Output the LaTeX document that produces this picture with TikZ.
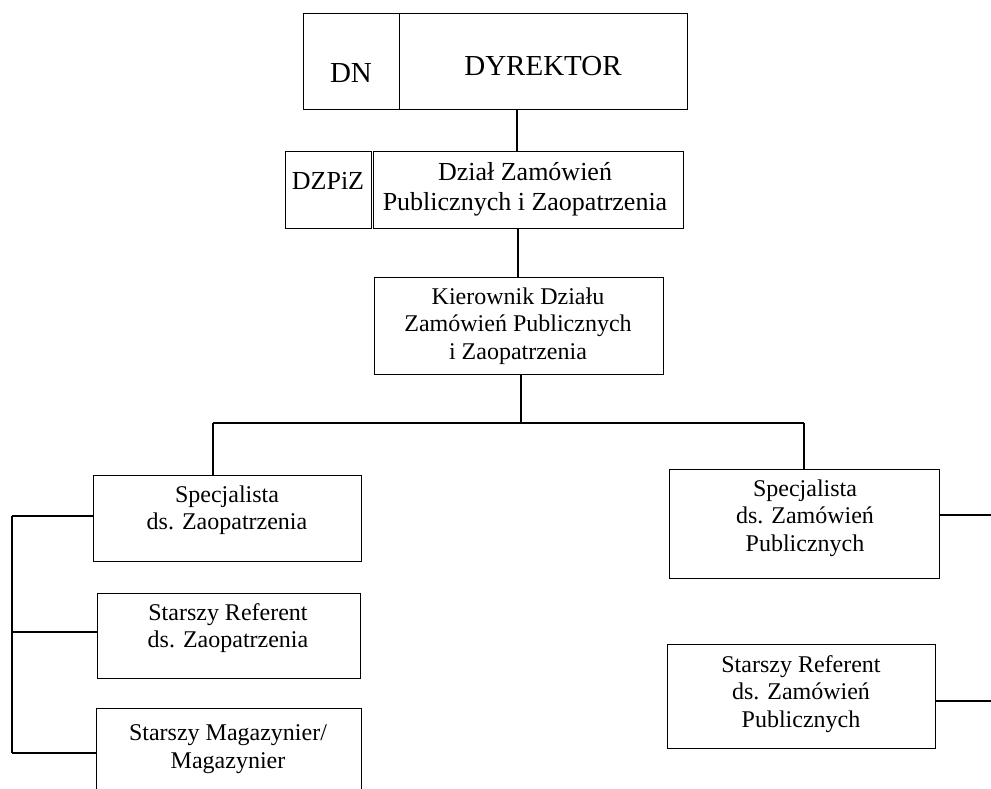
\documentclass[tikz,border=0pt]{standalone}
\usepackage{fontspec}
\setmainfont{Liberation Serif}
\begin{document}
\begin{tikzpicture}[x=1pt,y=-1pt,
  box/.style={draw, line width=1.4pt, inner sep=0pt, anchor=north west},
  txt/.style={align=center, inner sep=0pt, font=\fontsize{24}{27.5}\selectfont},
  bigtxt/.style={align=center, inner sep=0pt, font=\fontsize{26}{30}\selectfont},
  hugetxt/.style={align=center, inner sep=0pt, font=\fontsize{29}{33}\selectfont},
  conn/.style={line width=1.4pt}]
\clip (0,0) rectangle (991,788);
\fill[white] (0,0) rectangle (991,788);
% top
\node[box, minimum width=96pt, minimum height=96pt] (dn) at (303,13) {};
\node[box, minimum width=288pt, minimum height=96pt] (dyr) at (399,13) {};
\node[hugetxt] (dnt) at (351,73) {DN};
\node[hugetxt] (dyrt) at (543,66) {DYREKTOR};
% second row
\node[box, minimum width=86pt, minimum height=77pt] (dzpiz) at (285,151) {};
\node[box, minimum width=310pt, minimum height=77pt] (dzial) at (373,151) {};
\node[bigtxt] (dzpizt) at (328,181) {DZPiZ};
\node[bigtxt] (dzialt) at (525,189) {Dział Zamówień\\Publicznych i Zaopatrzenia};
% kierownik
\node[box, minimum width=289pt, minimum height=97pt] (kier) at (374,277) {};
\node[txt] (kiert) at (518,326) {Kierownik Działu\\Zamówień Publicznych\\i Zaopatrzenia};
% left column
\node[box, minimum width=268pt, minimum height=86pt] (specz) at (93,475) {};
\node[txt] (speczt) at (227,510) {Specjalista\\ds. Zaopatrzenia};
\node[box, minimum width=263pt, minimum height=85pt] (refz) at (97,593) {};
\node[txt] (refzt) at (228,628) {Starszy Referent\\ds. Zaopatrzenia};
\node[box, minimum width=265pt, minimum height=110pt] (mag) at (96,708) {};
\node[txt] (magt) at (228,749) {Starszy Magazynier/\\Magazynier};
% right column
\node[box, minimum width=270pt, minimum height=109pt] (specp) at (669,469) {};
\node[txt] (specpt) at (805,518) {Specjalista\\ds. Zamówień\\Publicznych};
\node[box, minimum width=268pt, minimum height=104pt] (refp) at (667,644) {};
\node[txt] (refpt) at (801,694) {Starszy Referent\\ds. Zamówień\\Publicznych};
% coordinates
\coordinate (busL) at (213,423);
\coordinate (busR) at (804,423);
\coordinate (busC) at (521,423);
\coordinate (brT) at (12,516);
\coordinate (brM) at (12,632);
\coordinate (brB) at (12,753);
\coordinate (rA) at (991,515);
\coordinate (rB) at (991,701);
% connectors
\draw[conn] (dyr.south -| 517,0) -- (dzial.north -| 517,0);
\draw[conn] (dzial.south -| 518,0) -- (kier.north -| 518,0);
\draw[conn] (kier.south -| busC) -- (busC);
\draw[conn] (busL) -- (busR);
\draw[conn] (busL) -- (specz.north -| busL);
\draw[conn] (busR) -- (specp.north -| busR);
\draw[conn] (brT) -- (brB);
\draw[conn] (brT) -- (specz.west |- brT);
\draw[conn] (brM) -- (refz.west |- brM);
\draw[conn] (brB) -- (mag.west |- brB);
\draw[conn] (specp.east |- rA) -- (rA);
\draw[conn] (refp.east |- rB) -- (rB);
\end{tikzpicture}
\end{document}
